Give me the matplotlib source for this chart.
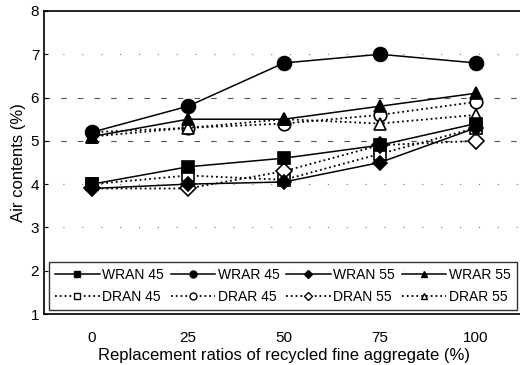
import matplotlib
matplotlib.use("Agg")
import matplotlib.pyplot as plt
from matplotlib.lines import Line2D

plt.rcParams['font.family'] = ['Liberation Sans', 'DejaVu Sans']

x = [0, 25, 50, 75, 100]
wran45 = [4.0, 4.4, 4.6, 4.9, 5.4]
wrar45 = [5.2, 5.8, 6.8, 7.0, 6.8]
wran55 = [3.9, 4.0, 4.05, 4.5, 5.3]
wrar55 = [5.1, 5.5, 5.5, 5.8, 6.1]
dran45 = [4.0, 4.2, 4.1, 4.7, 5.3]
drar45 = [5.2, 5.3, 5.4, 5.6, 5.9]
dran55 = [3.9, 3.9, 4.3, 4.9, 5.0]
drar55 = [5.1, 5.3, 5.5, 5.4, 5.6]

labels = ["WRAN 45", "WRAR 45", "WRAN 55", "WRAR 55",
          "DRAN 45", "DRAR 45", "DRAN 55", "DRAR 55"]
series = [wran45, wrar45, wran55, wrar55, dran45, drar45, dran55, drar55]
markers = ['s', 'o', 'D', '^', 's', 'o', 'D', '^']
filled = [True, True, True, True, False, False, False, False]
msizes = [9, 10, 7, 9, 9, 9, 8, 9]

xticks = [0, 25, 50, 75, 100]
yticks = [1, 2, 3, 4, 5, 6, 7, 8]

fig = plt.figure(figsize=(5.2, 3.65), dpi=100)
ax = fig.add_axes([44/520, 1-314/365, 480/520, 303/365])

# grid lines
for yv in [6, 5]:
    ax.axhline(yv, color='#555555', lw=0.8, ls=(0, (5, 10)), zorder=0)
for yv in [7, 4, 3, 2]:
    ax.axhline(yv, color='#777777', lw=0.8, ls=(0, (1, 16)), zorder=0)

# draw order: dotted first, then solid
order = [4, 5, 6, 7, 0, 1, 2, 3]
handles = {}
for i in order:
    ls = '-' if filled[i] else ':'
    fc = 'black' if filled[i] else 'white'
    ax.plot(x, series[i], ls=ls, color='black', lw=1.1 if filled[i] else 1.3,
            marker=markers[i], ms=msizes[i], mfc=fc, mec='black', mew=1.2,
            zorder=3 if filled[i] else 2)
    handles[i] = Line2D([], [], ls=ls, color='black', lw=1.1 if filled[i] else 1.3,
                        marker=markers[i], ms=5 if markers[i] != 'D' else 4,
                        mfc=fc, mec='black', mew=1.0)

ax.set_xlim(-12.5, 112.5)
ax.set_ylim(1, 8)
ax.set_xticks(xticks)
ax.set_yticks(yticks)
ax.tick_params(axis='both', direction='in', length=3, labelsize=11, width=0.8)
ax.tick_params(axis='x', length=0, pad=12.5)
for s in ax.spines.values():
    s.set_linewidth(1.2)

ax.set_xlabel("Replacement ratios of recycled fine aggregate (%)", fontsize=12, labelpad=2)
ax.set_ylabel("Air contents (%)", fontsize=12, labelpad=3)

# legend: ncol=4, column-wise fill -> reorder
leg_order = [0, 4, 1, 5, 2, 6, 3, 7]
leg = ax.legend([handles[i] for i in leg_order], [labels[i] for i in leg_order],
                ncol=4, loc='lower left', mode='expand',
                bbox_to_anchor=(0.0104, 0.013, 0.975, 0.159),
                fontsize=10, frameon=True, fancybox=False, edgecolor='black',
                handlelength=3.2, handletextpad=0.2, columnspacing=0.5,
                borderpad=0.45, labelspacing=0.55, borderaxespad=0.0)
leg.get_frame().set_linewidth(1.0)

fig.savefig("out.png", dpi=100)
